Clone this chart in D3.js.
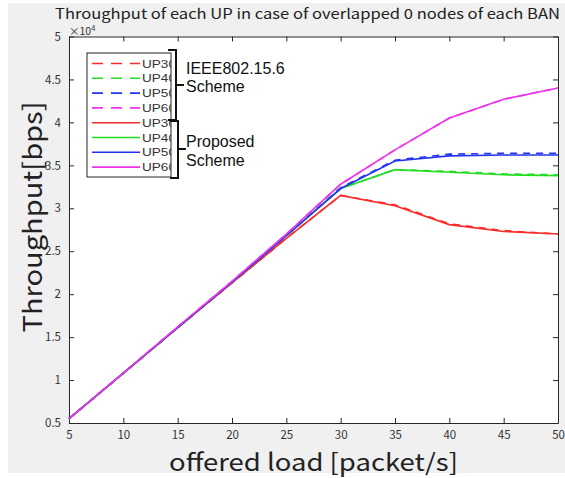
<!DOCTYPE html>
<html><head><meta charset="utf-8">
<script src="https://cdn.jsdelivr.net/npm/d3@7"></script>
<style>
html,body{margin:0;padding:0;background:#fff;}
svg{display:block;}
</style></head>
<body>
<svg id="chart" width="565" height="478"></svg>
<script>
// ---- data (throughput in bps) ----
const loads = [5, 10, 15, 20, 25, 30, 35, 40, 45, 50];
const ieeeUP3 = [5500, 10800, 16100, 21300, 26500, 31500, 30400, 28200, 27400, 27000];
const ieeeUP4 = [5500, 10800, 16100, 21400, 26800, 32300, 34500, 34300, 34000, 33900];
const ieeeUP5 = [5500, 10800, 16100, 21400, 26800, 32400, 35600, 36300, 36400, 36400];
const ieeeUP6 = [5500, 10800, 16200, 21500, 27000, 32800, 36800, 40500, 42700, 44000];
const propUP3 = [5500, 10800, 16100, 21300, 26500, 31500, 30300, 28100, 27300, 27000];
const propUP4 = [5500, 10800, 16100, 21400, 26800, 32300, 34500, 34200, 33900, 33800];
const propUP5 = [5500, 10800, 16100, 21400, 26800, 32300, 35500, 36100, 36200, 36200];
const propUP6 = [5500, 10800, 16200, 21500, 27000, 32800, 36800, 40500, 42700, 44000];
const legendLabels = ["UP30", "UP40", "UP50", "UP60", "UP30", "UP40", "UP50", "UP60"];
const xTicks = [5, 10, 15, 20, 25, 30, 35, 40, 45, 50];
const yTicks = [5000, 10000, 15000, 20000, 25000, 30000, 35000, 40000, 45000, 50000];
const titleText = "Throughput of each UP in case of overlapped 0 nodes of each BAN";
const xLabel = "offered load [packet/s]";
const yLabel = "Throughput[bps]";

const series = [
  {vals: ieeeUP3, color: "#ff2a2a", dash: "7,6"},
  {vals: ieeeUP4, color: "#22dd22", dash: "7,6"},
  {vals: ieeeUP5, color: "#2233ee", dash: "7,6"},
  {vals: ieeeUP6, color: "#ee33ee", dash: "7,6"},
  {vals: propUP3, color: "#ff2a2a", dash: null},
  {vals: propUP4, color: "#22dd22", dash: null},
  {vals: propUP5, color: "#2233ee", dash: null},
  {vals: propUP6, color: "#ee33ee", dash: null}
];

const svg = d3.select("#chart");
const font = "'Noto Sans CJK JP', 'Noto Sans', sans-serif";

// background
svg.append("rect").attr("x", 8).attr("y", 3).attr("width", 557).attr("height", 470).attr("fill", "#f0f0f0");

const L = 69, R = 558, T = 36.5, B = 423;
svg.append("rect").attr("x", L).attr("y", T).attr("width", R - L).attr("height", B - T).attr("fill", "#fff");

const x = d3.scaleLinear().domain([5, 50]).range([L, R]);
const y = d3.scaleLinear().domain([5000, 50000]).range([B, T]);

// axes
const fmtY = d => d3.format("")(d / 10000);
const axisStyle = g => {
  g.selectAll(".domain").attr("stroke", "#262626").attr("stroke-width", 1);
  g.selectAll(".tick line").attr("stroke", "#262626");
  g.selectAll(".tick text").attr("fill", "#333").attr("font-family", font).attr("font-size", 11.5);
};
svg.append("g").attr("transform", `translate(0,${B})`)
  .call(d3.axisBottom(x).tickValues(xTicks).tickSizeInner(-5).tickSizeOuter(0).tickPadding(8))
  .call(axisStyle);
svg.append("g").attr("transform", `translate(0,${T})`)
  .call(d3.axisTop(x).tickValues(xTicks).tickSizeInner(-5).tickSizeOuter(0).tickFormat(""))
  .call(axisStyle);
svg.append("g").attr("transform", `translate(${L},0)`)
  .call(d3.axisLeft(y).tickValues(yTicks).tickSizeInner(-5).tickSizeOuter(0).tickPadding(8).tickFormat(fmtY))
  .call(axisStyle);
svg.append("g").attr("transform", `translate(${R},0)`)
  .call(d3.axisRight(y).tickValues(yTicks).tickSizeInner(-5).tickSizeOuter(0).tickFormat(""))
  .call(axisStyle);

// exponent
const ex = svg.append("text").attr("x", 69).attr("y", 35).attr("font-family", font).attr("font-size", 10.5).attr("fill", "#333");
ex.append("tspan").text("×10");
ex.append("tspan").attr("dy", -4).attr("font-size", 7.5).text("4");

// lines
const line = d3.line().x((d, i) => x(loads[i])).y(d => y(d));
const plot = svg.append("g");
series.forEach(s => {
  plot.append("path").datum(s.vals).attr("d", line).attr("fill", "none")
    .attr("stroke", s.color).attr("stroke-width", 1.6)
    .attr("stroke-dasharray", s.dash);
});

// legend
const lgX = 87, lgY = 53, lgW = 84, lgH = 124;
svg.append("clipPath").attr("id", "lgclip").append("rect").attr("x", lgX).attr("y", lgY).attr("width", lgW).attr("height", lgH);
const lg = svg.append("g");
lg.append("rect").attr("x", lgX).attr("y", lgY).attr("width", lgW).attr("height", lgH).attr("fill", "#fff").attr("stroke", "#262626").attr("stroke-width", 1);
const lgItems = lg.append("g").attr("clip-path", "url(#lgclip)");
series.forEach((s, i) => {
  const yy = lgY + 10.5 + i * 14.8;
  lgItems.append("line").attr("x1", lgX + 5).attr("x2", lgX + 53).attr("y1", yy).attr("y2", yy)
    .attr("stroke", s.color).attr("stroke-width", 1.6).attr("stroke-dasharray", s.dash ? "11,8" : null);
  lgItems.append("text").attr("x", lgX + 55).attr("y", yy + 4).attr("font-family", "Arial, 'Liberation Sans', sans-serif")
    .attr("font-size", 11.5).attr("fill", "#333").attr("textLength", 34).attr("lengthAdjust", "spacingAndGlyphs")
    .text(legendLabels[i]);
});

// brackets
function bracket(xb, y1, y2, ym, hook) {
  const p = d3.path();
  p.moveTo(xb - hook, y1); p.lineTo(xb, y1); p.lineTo(xb, y2); p.lineTo(xb - hook, y2);
  p.moveTo(xb, ym); p.lineTo(xb + 8, ym);
  svg.append("path").attr("d", p.toString()).attr("fill", "none").attr("stroke", "#111").attr("stroke-width", 2);
}
bracket(176, 50, 120, 85, 8);
bracket(178, 121, 178, 149, 8);
const ann = [["IEEE802.15.6", 186, 74], ["Scheme", 186, 92], ["Proposed", 186, 147], ["Scheme", 186, 166]];
ann.forEach(a => svg.append("text").attr("x", a[1]).attr("y", a[2]).attr("font-family", "Arial, 'Liberation Sans', sans-serif")
  .attr("font-size", 16).attr("fill", "#111").text(a[0]));

// title and labels
svg.append("text").attr("x", 55).attr("y", 18.5).attr("font-family", font).attr("font-size", 14)
  .attr("fill", "#222").attr("textLength", 505).attr("lengthAdjust", "spacingAndGlyphs").text(titleText);
svg.append("text").attr("x", 169).attr("y", 471).attr("font-family", font)
  .attr("font-size", 24).attr("fill", "#222").attr("textLength", 289).attr("lengthAdjust", "spacingAndGlyphs").text(xLabel);
svg.append("text").attr("transform", "translate(42,217) rotate(-90)").attr("text-anchor", "middle").attr("font-family", font)
  .attr("font-size", 26).attr("fill", "#222").attr("textLength", 231).attr("lengthAdjust", "spacingAndGlyphs").text(yLabel);
</script>
</body></html>
